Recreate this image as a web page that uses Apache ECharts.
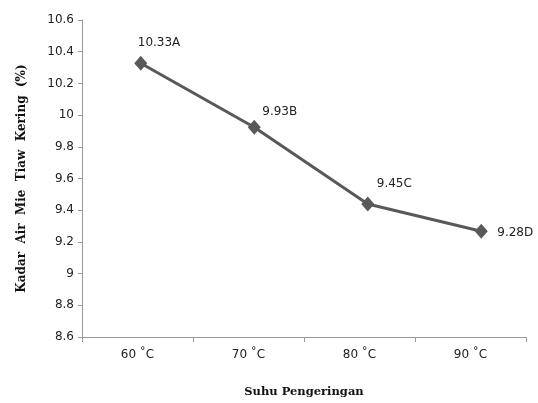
<!DOCTYPE html>
<html><head><meta charset="utf-8">
<script src="https://cdn.jsdelivr.net/npm/echarts@6/dist/echarts.min.js"></script>
<style>html,body{margin:0;padding:0;background:#fff}#c{width:538px;height:403px}</style>
</head><body><div id="c"></div>
<script>
const categories = ['60 ˚C', '70 ˚C', '80 ˚C', '90 ˚C'];
const values = [10.33, 9.93, 9.45, 9.28];
const pointLabels = ['10.33A', '9.93B', '9.45C', '9.28D'];
const labelOffsets = [[-3, -20], [8, -15], [9, -20], [16, 2]];
const yTicks = { min: 8.6, max: 10.6, interval: 0.2 };

const chart = echarts.init(document.getElementById('c'), null, {renderer: 'canvas'});
const axisColor = '#9a9a9a';
chart.setOption({
  animation: false,
  grid: [
    { left: 82, right: 12, top: 20, bottom: 63 },
    { left: 84, right: -2, top: 20, bottom: 63 }
  ],
  xAxis: [{
    type: 'category', data: categories, boundaryGap: true, gridIndex: 0,
    name: 'Suhu Pengeringan', nameLocation: 'middle', nameGap: 49,
    nameTextStyle: { fontFamily: 'DejaVu Serif', fontWeight: 'bold', fontSize: 11.5, color: '#111' },
    axisLine: { lineStyle: { color: axisColor, width: 1 } },
    axisTick: { show: true, length: 5, lineStyle: { color: axisColor } },
    axisLabel: { fontFamily: 'DejaVu Sans', fontSize: 12, color: '#222', margin: 12 },
    splitLine: { show: false }
  }, {
    type: 'category', data: categories, boundaryGap: true, gridIndex: 1, show: false
  }],
  yAxis: [{
    type: 'value', min: yTicks.min, max: yTicks.max, interval: yTicks.interval, gridIndex: 0,
    name: 'Kadar  Air  Mie  Tiaw  Kering  (%)', nameLocation: 'middle', nameGap: 54,
    nameTextStyle: { fontFamily: 'DejaVu Serif', fontWeight: 'bold', fontSize: 12, color: '#111' },
    axisLine: { show: true, lineStyle: { color: axisColor, width: 1 } },
    axisTick: { show: true, length: 4, lineStyle: { color: axisColor } },
    axisLabel: { fontFamily: 'DejaVu Sans', fontSize: 12, color: '#222', margin: 8,
      formatter: v => String(Math.round(v * 10) / 10) },
    splitLine: { show: false }
  }, {
    type: 'value', min: yTicks.min, max: yTicks.max, gridIndex: 1, show: false
  }],
  series: [{
    type: 'line', xAxisIndex: 1, yAxisIndex: 1,
    data: values.map((v, i) => ({
      value: v,
      label: { show: true, position: 'inside', align: 'left', verticalAlign: 'middle',
        offset: labelOffsets[i], formatter: pointLabels[i],
        color: '#222', fontFamily: 'DejaVu Sans', fontSize: 12 }
    })),
    symbol: 'diamond', symbolSize: [13, 15],
    lineStyle: { color: '#595959', width: 3 },
    itemStyle: { color: '#595959' }
  }]
});
</script></body></html>
